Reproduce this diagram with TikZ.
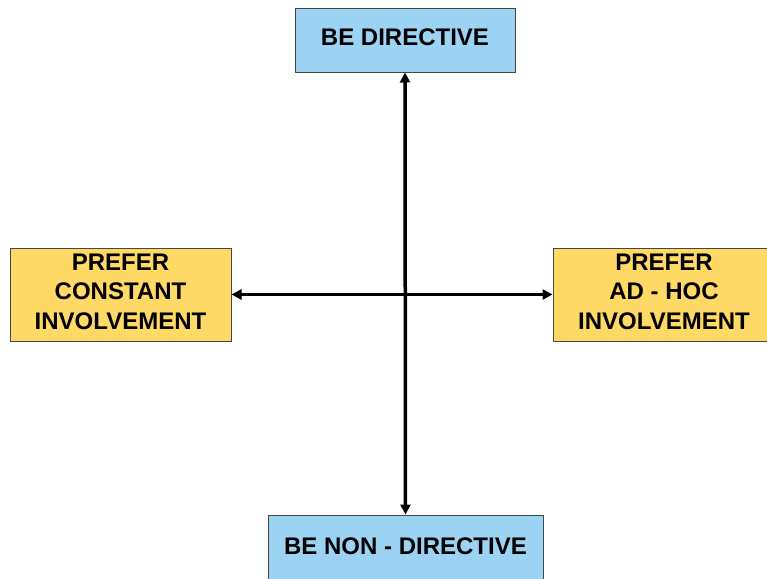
\documentclass[tikz,border=0pt]{standalone}
\usepackage{fontspec}
\setmainfont{Liberation Sans}
\usetikzlibrary{arrows.meta}
\definecolor{boxblue}{RGB}{157,211,242}
\definecolor{boxyellow}{RGB}{255,217,102}
\definecolor{boxline}{RGB}{70,70,70}
\begin{document}
\begin{tikzpicture}[x=1pt,y=1pt,
  box/.style={draw=boxline, line width=1pt, align=center, inner sep=0pt, text depth=6pt,
    font=\fontsize{24}{29.5}\selectfont\bfseries},
  bluebox/.style={box, fill=boxblue},
  yellowbox/.style={box, fill=boxyellow},
  axis/.style={line width=3.5pt, {Triangle[length=10pt,width=10pt]}-{Triangle[length=10pt,width=10pt]}}]
\useasboundingbox (0,0) rectangle (767,-578);
\node[bluebox, minimum width=220pt, minimum height=63pt] (top) at (405,-40.5) {BE DIRECTIVE};
\node[bluebox, minimum width=275pt, minimum height=68pt] (bottom) at (405.5,-549) {BE NON - DIRECTIVE};
\node[yellowbox, minimum width=221pt, minimum height=93pt] (left) at (120.5,-294.5) {PREFER\\CONSTANT\\INVOLVEMENT};
\node[yellowbox, minimum width=222pt, minimum height=93pt] (right) at (664,-294.5) {PREFER\\AD - HOC\\INVOLVEMENT};
\draw[axis] (top.south) -- (bottom.north);
\draw[axis] (left.east) -- (right.west);
\end{tikzpicture}
\end{document}
